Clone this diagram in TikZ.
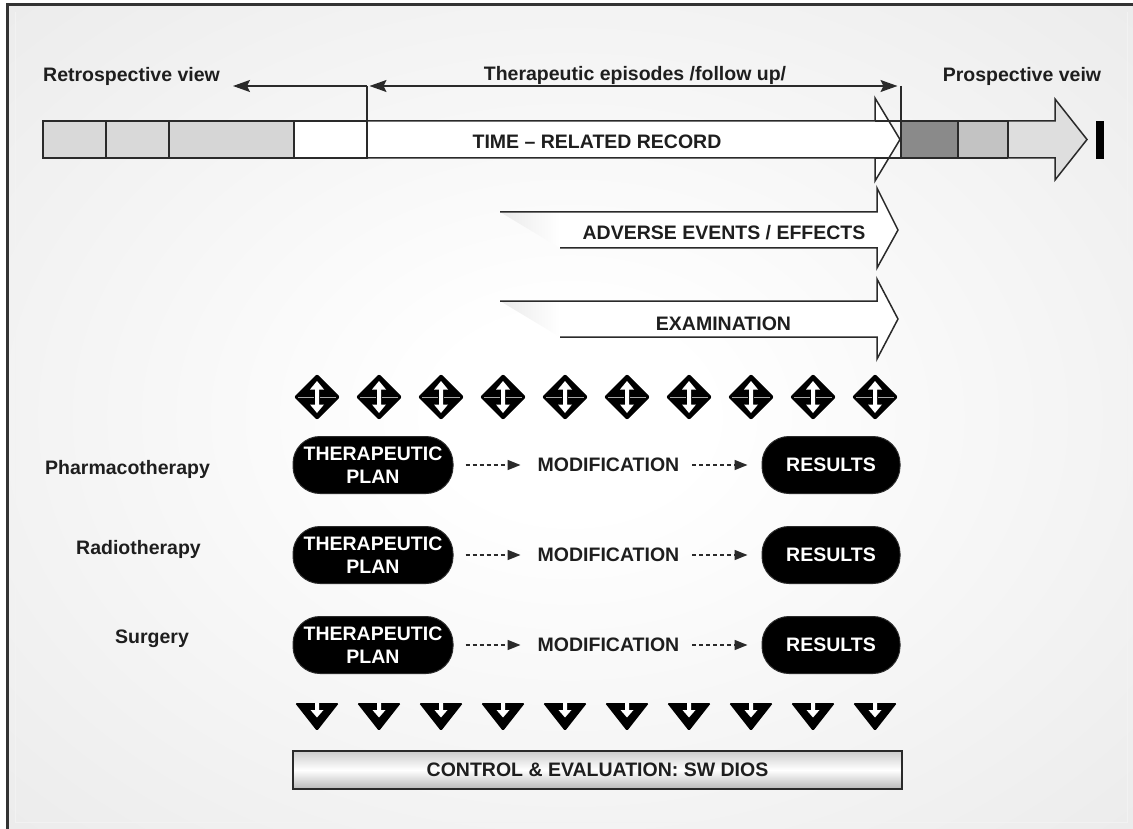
\documentclass[tikz,border=0pt]{standalone}
\usepackage{fontspec}
\setmainfont{Liberation Sans}
\usetikzlibrary{arrows.meta}
\definecolor{bggrey}{HTML}{E1E1E1}
\definecolor{ink}{HTML}{1E1E1E}
\definecolor{edge}{HTML}{2A2A2A}
\definecolor{cellA}{HTML}{D9D9D9}
\definecolor{cellC}{HTML}{D6D6D6}
\definecolor{darkcell}{HTML}{8A8A8A}
\definecolor{midcell}{HTML}{C3C3C3}
\definecolor{lightcell}{HTML}{DEDEDE}
\pgfdeclareradialshading{bgradial}{\pgfpoint{0bp}{0bp}}{color(0bp)=(white); color(6bp)=(white); color(52bp)=(bggrey); color(100bp)=(bggrey)}
\begin{document}
\begin{tikzpicture}[x=1pt,y=-1pt,
  font=\fontsize{19.5}{23}\selectfont\bfseries, text=ink,
  lbl/.style={inner sep=0pt, anchor=base},
  bar/.style={draw=edge, line width=1.5pt},
  hdr/.style={draw=edge, line width=1.5pt},
  tipA/.style={-{Stealth[length=17pt,width=12pt,inset=3pt]}},
  pill/.style={fill=black, draw=edge, line width=1pt, rounded corners=27pt, text=white,
               align=center, inner sep=0pt, minimum height=57pt},
  flow/.style={draw=edge, line width=1.6pt, dash pattern=on 4pt off 3pt,
               -{Triangle[length=13pt,width=10pt]}},
  ctrl/.style={draw=edge, line width=2pt, top color=gray!40, bottom color=gray!55,
               middle color=white, minimum width=609pt, minimum height=38pt, inner sep=0pt}
]
\useasboundingbox (0,0) rectangle (1133,829);
\fill[white] (0,0) rectangle (1133,829);
% background
\shade[shading=bgradial] (7,5) rectangle (1133,829);
\draw[white!95!black, line width=1pt] (15,12) -- (15,822) -- (1127,822) -- (1127,12);
\draw[black!80, line width=3pt] (7,829) -- (7,5) -- (1133,5);

% ---------- time bar ----------
\fill[cellA] (43,121) rectangle (169,158);
\fill[cellC] (169,121) rectangle (294,158);
\fill[white] (294,121) rectangle (367,158);
\draw[bar] (43,121) rectangle (367,158);
\draw[bar] (106,121) -- (106,158) (169,121) -- (169,158) (294,121) -- (294,158);
% white time arrow
\draw[bar, fill=white] (367,121) -- (875,121) -- (875,98) -- (900,139.5) -- (875,181) -- (875,158) -- (367,158);
% prospective arrow
\draw[bar, fill=lightcell] (901,121) -- (1055,121) -- (1055,99) -- (1087,139.5) -- (1055,180) -- (1055,158) -- (901,158);
\fill[darkcell] (901,121) rectangle (958,158);
\fill[midcell] (958,121) rectangle (1008,158);
\draw[bar] (875,121) -- (1008,121) (875,158) -- (1008,158);
\draw[bar] (958,121) -- (958,158) (1008,121) -- (1008,158);
\fill[black] (1096,121) rectangle (1104,159);
\node[lbl] (trr) at (597,149) {TIME – RELATED RECORD};

% ---------- header ----------
\node[lbl, anchor=base west] (retro) at (43,82) {Retrospective view};
\node[lbl] (epis) at (635,81) {Therapeutic episodes /follow up/};
\node[lbl] (prosp) at (1022,82) {Prospective veiw};
\coordinate (epL) at (367,86);
\coordinate (epR) at (901,86);
\coordinate (retroEnd) at (233,86);
\draw[hdr] (epL) -- (367,158);
\draw[hdr] (epR) -- (901,158);
\draw[hdr, tipA] (epL) -- (retroEnd);
\draw[hdr, {Stealth[length=17pt,width=12pt,inset=3pt]}-{Stealth[length=17pt,width=12pt,inset=3pt]}, shorten <=2.5pt, shorten >=3.5pt] (epL) -- (epR);

% ---------- adverse events ----------
\fill[white] (560,212) -- (877,212) -- (877,188) -- (898,230) -- (877,268) -- (877,248) -- (560,248) -- cycle;
\shade[left color=bggrey!70!white, right color=white] (500,212) -- (560,212) -- (560,248) -- cycle;
\draw[bar] (500,212) -- (877,212) -- (877,188) -- (898,230) -- (877,268) -- (877,248) -- (560,248);
\node[lbl] (adv) at (724,240) {ADVERSE EVENTS / EFFECTS};

% ---------- examination ----------
\fill[white] (560,301) -- (877,301) -- (877,279) -- (898,319) -- (877,359) -- (877,337) -- (560,337) -- cycle;
\shade[left color=bggrey!70!white, right color=white] (500,301) -- (560,301) -- (560,337) -- cycle;
\draw[bar] (500,301) -- (877,301) -- (877,279) -- (898,319) -- (877,359) -- (877,337) -- (560,337);
\node[lbl] (exam) at (723.5,330) {EXAMINATION};

% ---------- diamonds ----------
\foreach \cx in {317,379,441,503,565,627,689,751,813,875} {
  \fill[black, rounded corners=2pt] (\cx,374) -- (\cx+23,397) -- (\cx,420) -- (\cx-23,397) -- cycle;
  \fill[white] (\cx,381) -- (\cx+7,389.5) -- (\cx+2,389.5) -- (\cx+2,404.5) -- (\cx+7,404.5) -- (\cx,413)
     -- (\cx-7,404.5) -- (\cx-2,404.5) -- (\cx-2,389.5) -- (\cx-7,389.5) -- cycle;
  \draw[gray!70, line width=0.8pt] (\cx-19,397) -- (\cx-3,397) (\cx+3,397) -- (\cx+19,397);
}

% ---------- therapy rows ----------
\foreach \name/\ry/\lx/\ly/\lab in {ph/465/45/474/Pharmacotherapy, ra/555/76/554/Radiotherapy, su/645/115/643/Surgery} {
  \node[lbl, anchor=base west] (lab\name) at (\lx,\ly) {\lab};
  \node[pill, minimum width=160pt] (plan\name) at (373,\ry) {THERAPEUTIC\\PLAN};
  \node[inner sep=0pt] (mod\name) at (608.5,\ry) {MODIFICATION};
  \node[pill, minimum width=138pt] (res\name) at (831,\ry) {RESULTS};
  \draw[flow, shorten <=12pt, shorten >=17pt] (plan\name.east) -- (mod\name.west);
  \draw[flow, shorten <=13pt, shorten >=14pt] (mod\name.east) -- (res\name.west);
}

% ---------- down triangles ----------
\foreach \cx in {317,379,441,503,565,627,689,751,813,875} {
  \fill[black, rounded corners=1.5pt] (\cx-22,703) -- (\cx+22,703) -- (\cx,731) -- cycle;
  \fill[white] (\cx-2,703) -- (\cx+2,703) -- (\cx+2,710) -- (\cx+6.5,710) -- (\cx,717.5) -- (\cx-6.5,710) -- (\cx-2,710) -- cycle;
}

% ---------- control box ----------
\node[ctrl] (ctrl) at (597.5,770) {CONTROL \& EVALUATION: SW DIOS};
\end{tikzpicture}
\end{document}
